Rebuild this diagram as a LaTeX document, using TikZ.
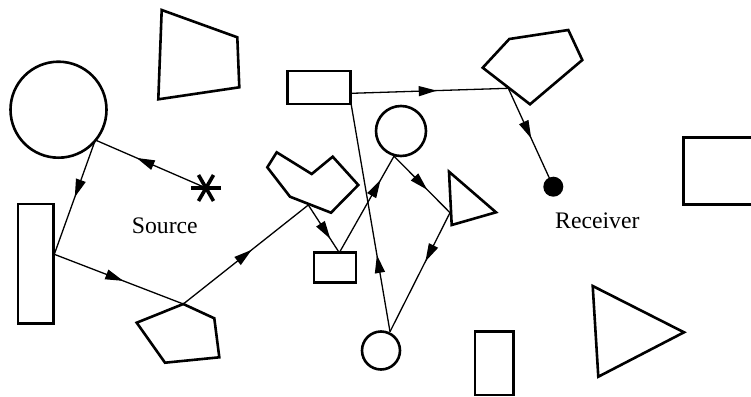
\documentclass[tikz,border=0pt]{standalone}
\usepackage{fontspec}
\setmainfont{Liberation Serif}
\usetikzlibrary{arrows.meta,decorations.markings,calc}

\tikzset{
  shape line/.style={draw=black, line width=2.6pt, line join=miter, fill=white},
  link/.style={draw=black, line width=1.3pt},
  marr/.style={postaction={decorate, decoration={markings,
      mark=at position #1 with {\arrow{Triangle[length=18pt,width=10pt]}}}}},
  label text/.style={anchor=base west, inner sep=0pt, font=\fontsize{23.7}{28}\selectfont},
}

\begin{document}
\begin{tikzpicture}[x=1pt, y=-1pt]
\useasboundingbox (0,0) rectangle (751,396);

% connection points
\coordinate (cA)  at (95.3,140);
\coordinate (star) at (206,188);
\coordinate (rA)  at (54.3,254.3);
\coordinate (pA)  at (183.3,304);
\coordinate (hA)  at (308.3,205);
\coordinate (sA)  at (339.3,252.7);
\coordinate (mA)  at (394,156.2);
\coordinate (tA)  at (450,212.7);
\coordinate (bA)  at (390,331.7);
\coordinate (trA) at (351,103.3);
\coordinate (trB) at (351.7,93.3);
\coordinate (qA)  at (508.3,88.3);
\coordinate (rcv) at (553.3,186.7);

% ray paths
\draw[link, marr=0.626] (star) -- (cA);
\draw[link, marr=0.5]   (cA) -- (rA);
\draw[link, marr=0.535] (rA) -- (pA);
\draw[link, marr=0.547] (pA) -- (hA);
\draw[link, marr=0.71]  (hA) -- (sA);
\draw[link, marr=0.755] (sA) -- (mA);
\draw[link, marr=0.595] (mA) -- (tA);
\draw[link, marr=0.41]  (tA) -- (bA);
\draw[link, marr=0.336] (bA) -- (trA);
\draw[link, marr=0.543] (trB) -- (qA);
\draw[link, marr=0.51]  (qA) -- (rcv);

% obstacles
\draw[shape line] (161.7,10) -- (237.3,37.3) -- (239.3,87.3) -- (158.3,99.3) -- cycle;
\draw[shape line] (58.5,109.7) circle[radius=48];
\draw[shape line] (18,204) rectangle (53.3,323.3);
\draw[shape line, fill=none] (136.7,322.7) -- (183.3,304) -- (214.3,318.3) -- (219.3,357.3) -- (165,362.7) -- cycle;
\draw[shape line, fill=none] (267.3,167.3) -- (276.7,152.3) -- (311.7,174) -- (332.7,156.7) -- (358.3,185) -- (331,212.7) -- (290,196.7) -- cycle;
\draw[shape line] (314,252.7) rectangle (356,282.7);
\draw[shape line] (287.3,71) rectangle (350.7,104);
\draw[shape line] (401,131) circle[radius=25];
\draw[shape line] (449,171.7) -- (496,212.3) -- (451.7,225) -- cycle;
\draw[shape line, fill=none] (482.7,67.7) -- (509.3,39) -- (568.3,30) -- (582.3,60) -- (530,104.3) -- cycle;
\draw[shape line] (683.3,137.3) rectangle (760,204.3);
\draw[shape line] (381,350.5) circle[radius=19];
\draw[shape line] (475,331.7) rectangle (513.3,395);
\draw[shape line] (592.7,286) -- (684,332.3) -- (598.3,376.7) -- cycle;

% source star and receiver
\foreach \a in {0,60,120}
  \draw[line width=3.6pt] ($(star)+(\a:15)$) -- ($(star)+(\a+180:15)$);
\fill[black] (rcv) circle[radius=10];

\node[label text] (src) at (131.7,233) {Source};
\node[label text] (rec) at (555,228.3) {Receiver};
\end{tikzpicture}
\end{document}
